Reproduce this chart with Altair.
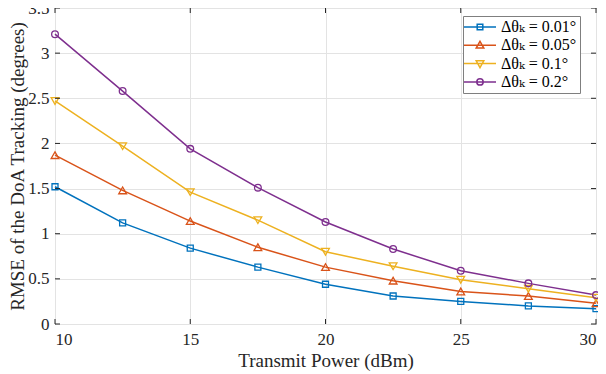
import altair as alt
import pandas as pd

power = [10, 12.5, 15, 17.5, 20, 22.5, 25, 27.5, 30]
rmse_001 = [1.52, 1.12, 0.84, 0.63, 0.44, 0.31, 0.25, 0.20, 0.17]
rmse_005 = [1.87, 1.48, 1.14, 0.85, 0.63, 0.48, 0.36, 0.31, 0.23]
rmse_01 = [2.47, 1.97, 1.46, 1.15, 0.80, 0.64, 0.49, 0.39, 0.29]
rmse_02 = [3.21, 2.58, 1.94, 1.51, 1.13, 0.83, 0.59, 0.45, 0.32]

labels = ["Δθₖ = 0.01°", "Δθₖ = 0.05°", "Δθₖ = 0.1°", "Δθₖ = 0.2°"]
colors = ["#0072BD", "#D95319", "#EDB120", "#7E2F8E"]
shapes = ["square", "triangle-up", "triangle-down", "circle"]
series = [rmse_001, rmse_005, rmse_01, rmse_02]

x_ticks = [10, 15, 20, 25, 30]
y_ticks = [0, 0.5, 1, 1.5, 2, 2.5, 3, 3.5]

rows = []
for lab, vals in zip(labels, series):
    for p, v in zip(power, vals):
        rows.append({"power": p, "rmse": v, "series": lab})
df = pd.DataFrame(rows)
xt = pd.DataFrame({"v": x_ticks})
yt = pd.DataFrame({"v": y_ticks})

W, H = 541, 316
FONT = "'Liberation Serif', 'Times New Roman', 'DejaVu Serif', serif"

xscale = alt.Scale(domain=[10, 30], nice=False, zero=False)
yscale = alt.Scale(domain=[0, 3.5], nice=False)
cscale = alt.Scale(domain=labels, range=colors)

# legend glyphs: a line segment with the series marker at its centre
legend_paths = [
    "M-4,0H4M-0.7,-0.7H0.7V0.7H-0.7Z",
    "M-4,0H4M0,-1L0.95,0.7H-0.95Z",
    "M-4,0H4M0,1L0.95,-0.7H-0.95Z",
    "M-4,0H4M0.8,0A0.8,0.8 0 1 1 -0.8,0A0.8,0.8 0 1 1 0.8,0Z",
]

x_enc = alt.X("power:Q", scale=xscale,
              axis=alt.Axis(values=x_ticks, title="Transmit Power (dBm)",
                            format="~g"))
y_enc = alt.Y("rmse:Q", scale=yscale,
              axis=alt.Axis(values=y_ticks, title="RMSE of the DoA Tracking (degrees)",
                            format="~g"))

lines = alt.Chart(df).mark_line(strokeWidth=1.5).encode(
    x=x_enc, y=y_enc,
    color=alt.Color("series:N", scale=cscale),
    detail="series:N",
)

point_layers = []
for lab, shp, sz in zip(labels, shapes, [36, 60, 60, 45]):
    point_layers.append(
        alt.Chart(df).transform_filter(alt.datum.series == lab)
        .mark_point(shape=shp, filled=False, size=sz, strokeWidth=1.3, opacity=1)
        .encode(x=alt.X("power:Q", scale=xscale),
                y=alt.Y("rmse:Q", scale=yscale),
                color=alt.Color("series:N", scale=cscale))
    )

leg_props = dict(
    orient="none", legendX=408, legendY=8, title=None,
    fillColor="white", strokeColor="#7f7f7f", padding=3,
    symbolSize=64, symbolStrokeWidth=1.5, symbolType="circle",
    symbolOffset=6,
    labelFont=FONT, labelFontSize=16, labelColor="black",
    rowPadding=2.3, labelOffset=13,
)
legend_layer = alt.Chart(df).transform_filter("false").mark_point(
    filled=False, strokeWidth=1.5, opacity=1
).encode(
    x=alt.X("power:Q", scale=xscale),
    y=alt.Y("rmse:Q", scale=yscale),
    color=alt.Color("series:N", scale=cscale, legend=alt.Legend(**leg_props)),
    shape=alt.Shape("series:N", scale=alt.Scale(domain=labels, range=legend_paths),
                    legend=alt.Legend(**leg_props)),
)

tick_color = "#262626"
xt_bottom = alt.Chart(xt).mark_rule(color=tick_color, strokeWidth=1).encode(
    x=alt.X("v:Q", scale=xscale), y=alt.value(H), y2=alt.value(H - 5))
xt_top = alt.Chart(xt).mark_rule(color=tick_color, strokeWidth=1).encode(
    x=alt.X("v:Q", scale=xscale), y=alt.value(0), y2=alt.value(5))
yt_left = alt.Chart(yt).mark_rule(color=tick_color, strokeWidth=1).encode(
    y=alt.Y("v:Q", scale=yscale), x=alt.value(0), x2=alt.value(5))
yt_right = alt.Chart(yt).mark_rule(color=tick_color, strokeWidth=1).encode(
    y=alt.Y("v:Q", scale=yscale), x=alt.value(W), x2=alt.value(W - 5))

chart = alt.layer(
    lines, *point_layers, legend_layer, xt_bottom, xt_top, yt_left, yt_right
).properties(
    width=W, height=H,
    autosize=alt.AutoSizeParams(type="none"),
    padding={"left": 47, "top": 0, "right": 2, "bottom": 50},
).configure_view(
    stroke="#262626", strokeWidth=1
).configure_axis(
    domain=False, ticks=False, tickSize=0,
    grid=True, gridColor="#e3e3e3", gridWidth=1,
    labelFont=FONT, labelFontSize=17, labelColor="#262626",
    titleFont=FONT, titleFontSize=19, titleColor="#262626", titleFontWeight="normal",
).configure_axisX(
    labelPadding=7, titlePadding=4,
).configure_axisY(
    labelPadding=6, titlePadding=0,
)

chart.save("out.html", embed_options={"renderer": "svg", "actions": False})
